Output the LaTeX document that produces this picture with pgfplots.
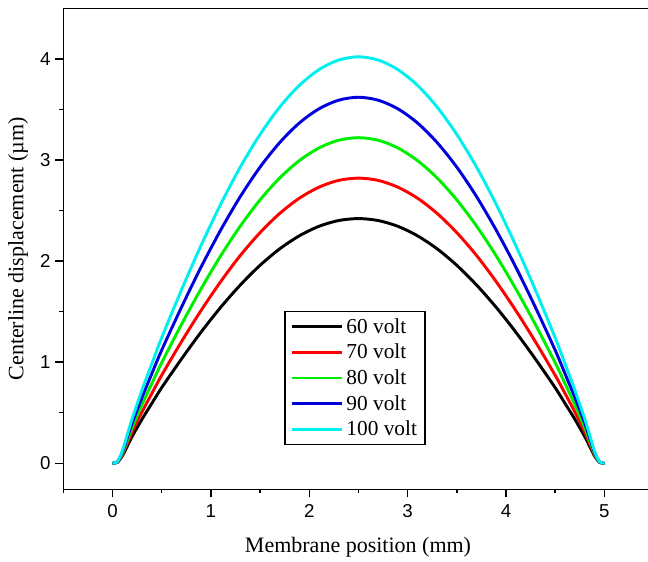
\documentclass[border=0pt]{standalone}
\usepackage{fontspec}
\setmainfont{Liberation Serif}
\newfontfamily\arial{Liberation Sans}
\usepackage{pgfplots}
\usepackage{pgfplotstable}
\pgfplotsset{compat=1.18}
\definecolor{cblack}{RGB}{0,0,0}
\definecolor{cred}{RGB}{255,0,0}
\definecolor{cgreen}{RGB}{0,238,0}
\definecolor{cblue}{RGB}{0,0,220}
\definecolor{ccyan}{RGB}{0,240,240}
\pgfplotstableread{
x a b c d e
0 0 0 0 0 0
0.05 0.010 0.011 0.013 0.014 0.016
0.1 0.073 0.085 0.097 0.109 0.121
0.15 0.169 0.197 0.225 0.253 0.281
0.2 0.266 0.310 0.354 0.398 0.442
0.3 0.436 0.508 0.580 0.652 0.724
0.4 0.593 0.691 0.789 0.887 0.985
0.5 0.748 0.871 0.995 1.119 1.242
0.7 1.030 1.201 1.371 1.541 1.712
0.9 1.297 1.511 1.725 1.940 2.154
1.1 1.543 1.797 2.052 2.307 2.562
1.3 1.764 2.056 2.347 2.639 2.931
1.5 1.958 2.281 2.605 2.929 3.252
1.7 2.121 2.471 2.822 3.172 3.523
1.9 2.250 2.622 2.994 3.366 3.738
2.1 2.344 2.731 3.119 3.506 3.894
2.3 2.401 2.798 3.195 3.591 3.988
2.5 2.420 2.820 3.220 3.620 4.020
2.7 2.401 2.798 3.195 3.591 3.988
2.9 2.344 2.731 3.119 3.506 3.894
3.1 2.250 2.622 2.994 3.366 3.738
3.3 2.121 2.471 2.822 3.172 3.523
3.5 1.958 2.281 2.605 2.929 3.252
3.7 1.764 2.056 2.347 2.639 2.931
3.9 1.543 1.797 2.052 2.307 2.562
4.1 1.297 1.511 1.725 1.940 2.154
4.3 1.030 1.201 1.371 1.541 1.712
4.5 0.748 0.871 0.995 1.119 1.242
4.6 0.593 0.691 0.789 0.887 0.985
4.7 0.436 0.508 0.580 0.652 0.724
4.8 0.266 0.310 0.354 0.398 0.442
4.85 0.169 0.197 0.225 0.253 0.281
4.9 0.073 0.085 0.097 0.109 0.121
4.95 0.010 0.011 0.013 0.014 0.016
5 0 0 0 0 0
}\datatable
\begin{document}
\begin{tikzpicture}
\begin{axis}[
  scale only axis,
  width=438.5pt, height=360.75pt,
  xmin=-0.5, xmax=5.444, ymin=-0.257, ymax=4.5,
  axis x line*=box, axis y line*=left,
  axis line style={line width=1.1pt},
  xtick={0,1,2,3,4,5}, ytick={0,1,2,3,4},
  minor xtick={-0.5,0.5,1.5,2.5,3.5,4.5},
  minor ytick={0.5,1.5,2.5,3.5},
  xtick pos=bottom, ytick pos=left,
  tick align=outside,
  major tick length=6pt, minor tick length=3pt,
  every tick/.style={line width=1.1pt, black},
  /pgf/number format/assume math mode=true,
  ticklabel style={font=\arial\fontsize{14}{14}\selectfont},
  xticklabel style={yshift=-2pt},
  xlabel={Membrane position (mm)},
  ylabel={Centerline displacement (µm)},
  label style={font=\fontsize{16.5}{18}\selectfont},
  xlabel style={at={(axis description cs:0.504,-0.12)}, anchor=center},
  ylabel style={at={(axis description cs:-0.0775,0.5)}, anchor=center},
  legend style={at={(axis cs:1.745,1.506)}, anchor=north west,
    draw=black, line width=1.1pt, font=\fontsize{16}{18}\selectfont,
    row sep=2.6pt, inner xsep=4pt, inner ysep=3pt},
  legend cell align=left,
  legend image code/.code={\draw[#1, line width=2.2pt] (0pt,0pt) -- (38pt,0pt);},
  every axis plot/.append style={line width=2.2pt, smooth},
]
\addplot[cblack] table[x=x,y=a] {\datatable};
\addplot[cred] table[x=x,y=b] {\datatable};
\addplot[cgreen] table[x=x,y=c] {\datatable};
\addplot[cblue] table[x=x,y=d] {\datatable};
\addplot[ccyan] table[x=x,y=e] {\datatable};
\legend{60 volt, 70 volt, 80 volt, 90 volt, 100 volt}
\end{axis}
\pgfresetboundingbox
\path[use as bounding box] (current axis.south west) ++(-47.5pt,-53.8pt) rectangle ([yshift=6.2pt]current axis.north east);
\end{tikzpicture}
\end{document}
